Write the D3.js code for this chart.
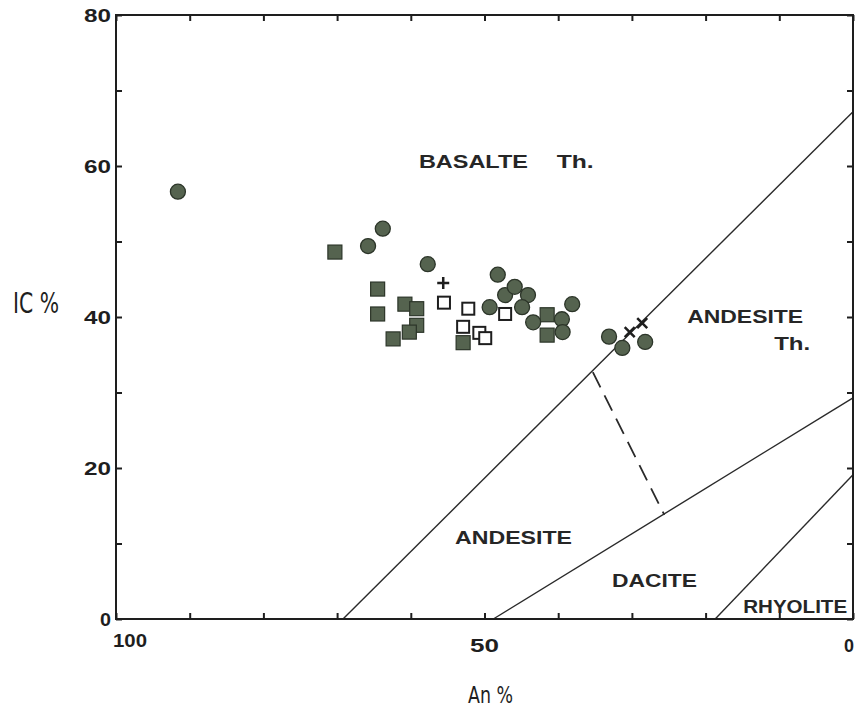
<!DOCTYPE html>
<html>
<head>
<meta charset="utf-8">
<script src="https://cdn.jsdelivr.net/npm/d3@7"></script>
<style>
  html, body { margin: 0; padding: 0; background: #fff; }
  svg { display: block; }
</style>
</head>
<body>
<svg id="chart" width="856" height="708"></svg>
<script>
// ---- DATA (An %, IC %) ----
const filledCircles = [
  [91.6, 56.6], [65.8, 49.4], [63.8, 51.7], [57.7, 47.0], [48.2, 45.6],
  [47.2, 42.9], [45.9, 44.0], [44.1, 42.9], [44.9, 41.3], [49.3, 41.3],
  [43.4, 39.3], [38.1, 41.7], [39.5, 39.7], [39.4, 38.0], [33.1, 37.4],
  [31.3, 35.9], [28.2, 36.7]
];
const filledSquares = [
  [70.3, 48.6], [64.5, 43.7], [64.5, 40.4], [60.8, 41.7], [59.2, 41.1],
  [59.2, 38.9], [60.2, 38.0], [62.4, 37.1], [52.9, 36.6], [41.5, 40.3],
  [41.5, 37.6]
];
const openSquares = [
  [55.5, 41.9], [52.2, 41.1], [47.2, 40.4], [52.9, 38.7], [50.7, 37.9], [49.9, 37.2]
];
const plusPoints = [[55.6, 44.5]];
const crossPoints = [[30.3, 38.0], [28.6, 39.2]];

// field boundaries
const boundaryBasaltAndesite = [[69.2, 0], [0, 67.2]];
const boundaryAndesiteDacite = [[48.8, 0], [0, 29.3]];
const boundaryDaciteRhyolite = [[18.7, 0], [0, 19.1]];
const boundaryDashed = [[35.3, 32.7], [25.6, 13.8]];

// field labels: text, An, IC (anchor in data space), target width
const fieldLabelText = ["BASALTE", "Th.", "ANDESITE", "Th.", "ANDESITE", "DACITE", "RHYOLITE"];
const fieldLabelAn   = [58.9, 40.2, 22.5, 10.7, 54.0, 32.7, 14.9];
const fieldLabelIC   = [59.7, 59.7, 39.2, 35.6, 9.9, 4.2, 0.8];
const fieldLabelLen  = [109, 37, 116, 36, 117, 85, 104];

// axes
const xTicks = [100, 90, 80, 70, 60, 50, 40, 30, 20, 10, 0];
const xTickLabels = [[100, "100"], [50, "50"], [0, "0"]];
const yTicks = [0, 10, 20, 30, 40, 50, 60, 70, 80];
const yTickLabels = [0, 20, 40, 60, 80];
const xTitle = "An %";
const yTitle = "IC %";

// ---- DRAW ----
const svg = d3.select("#chart");
const L = 116, R = 853, T = 15, B = 619;
const x = d3.scaleLinear().domain([100, 0]).range([L, R]);
const y = d3.scaleLinear().domain([0, 80]).range([B, T]);
const ink = "#1e1e1e";

// boundary lines
const line = d3.line().x(d => x(d[0])).y(d => y(d[1]));
[boundaryBasaltAndesite, boundaryAndesiteDacite, boundaryDaciteRhyolite].forEach(b => {
  svg.append("path").attr("d", line(b)).attr("fill", "none")
    .attr("stroke", "#2a2a2a").attr("stroke-width", 1.4);
});
svg.append("path").attr("d", line(boundaryDashed)).attr("fill", "none")
  .attr("stroke", "#2a2a2a").attr("stroke-width", 1.8).attr("stroke-dasharray", "17,9");

// axes with inward ticks
const tickLen = 6;
const gB = svg.append("g").attr("transform", `translate(0,${B})`)
  .call(d3.axisBottom(x).tickValues(xTicks).tickSize(-tickLen).tickFormat(""));
const gT = svg.append("g").attr("transform", `translate(0,${T})`)
  .call(d3.axisTop(x).tickValues(xTicks).tickSize(-tickLen).tickFormat(""));
const gL = svg.append("g").attr("transform", `translate(${L},0)`)
  .call(d3.axisLeft(y).tickValues(yTicks).tickSize(-tickLen).tickFormat(""));
const gR = svg.append("g").attr("transform", `translate(${R},0)`)
  .call(d3.axisRight(y).tickValues(yTicks).tickSize(-tickLen).tickFormat(""));
[gB, gT, gL, gR].forEach(g => {
  g.select(".domain").remove();
  g.selectAll(".tick line").attr("stroke", ink).attr("stroke-width", 2);
});
svg.append("rect").attr("x", L).attr("y", T).attr("width", R - L).attr("height", B - T)
  .attr("fill", "none").attr("stroke", ink).attr("stroke-width", 2);

// tick labels
const tickFont = "'Liberation Sans', Arial, sans-serif";
svg.selectAll(".ylab").data(yTickLabels).enter().append("text")
  .attr("x", L - 5).attr("y", d => y(d) + 7)
  .attr("text-anchor", "end")
  .attr("font-family", tickFont).attr("font-weight", "bold").attr("font-size", 18)
  .attr("fill", ink)
  .attr("textLength", d => d === 0 ? 11 : 27).attr("lengthAdjust", "spacingAndGlyphs")
  .text(d => d);
svg.selectAll(".xlab").data(xTickLabels).enter().append("text")
  .attr("x", d => d[0] === 100 ? x(d[0]) - 3 : (d[0] === 0 ? x(d[0]) + 1 : x(d[0])))
  .attr("y", d => d[0] === 100 ? B + 28 : B + 33)
  .attr("text-anchor", d => d[0] === 100 ? "start" : (d[0] === 0 ? "end" : "middle"))
  .attr("font-family", tickFont).attr("font-weight", "bold").attr("font-size", 18)
  .attr("fill", ink)
  .attr("textLength", d => d[0] === 100 ? 34 : (d[0] === 50 ? 29 : 10))
  .attr("lengthAdjust", "spacingAndGlyphs")
  .text(d => d[1]);

// axis titles
svg.append("text").attr("x", 13).attr("y", 313)
  .attr("font-family", "'DejaVu Sans Condensed', 'Liberation Sans Narrow', sans-serif")
  .attr("font-size", 29).attr("fill", ink)
  .attr("textLength", 46).attr("lengthAdjust", "spacingAndGlyphs")
  .text(yTitle);
svg.append("text").attr("x", 468).attr("y", 703)
  .attr("font-family", "'DejaVu Sans Condensed', 'Liberation Sans Narrow', sans-serif")
  .attr("font-size", 23).attr("fill", ink)
  .attr("textLength", 45).attr("lengthAdjust", "spacingAndGlyphs")
  .text(xTitle);

// field labels
svg.selectAll(".field").data(fieldLabelText).enter().append("text")
  .attr("x", (d, i) => x(fieldLabelAn[i]))
  .attr("y", (d, i) => y(fieldLabelIC[i]))
  .attr("font-family", tickFont).attr("font-weight", "bold").attr("font-size", 18)
  .attr("fill", "#262626")
  .attr("textLength", (d, i) => fieldLabelLen[i]).attr("lengthAdjust", "spacingAndGlyphs")
  .text(d => d);

// markers
const markFill = "#55634f", markStroke = "#2c3529";
svg.selectAll(".fsq").data(filledSquares).enter().append("rect")
  .attr("x", d => x(d[0]) - 7).attr("y", d => y(d[1]) - 7)
  .attr("width", 14).attr("height", 14)
  .attr("fill", markFill).attr("stroke", markStroke).attr("stroke-width", 1.2);
svg.selectAll(".osq").data(openSquares).enter().append("rect")
  .attr("x", d => x(d[0]) - 6).attr("y", d => y(d[1]) - 6)
  .attr("width", 12).attr("height", 12)
  .attr("fill", "#fff").attr("stroke", ink).attr("stroke-width", 2);
svg.selectAll(".fci").data(filledCircles).enter().append("circle")
  .attr("cx", d => x(d[0])).attr("cy", d => y(d[1])).attr("r", 7.5)
  .attr("fill", markFill).attr("stroke", markStroke).attr("stroke-width", 1.3);
svg.selectAll(".plus").data(plusPoints).enter().append("path")
  .attr("d", d => { const cx = x(d[0]), cy = y(d[1]), s = 6;
    return `M${cx - s},${cy}H${cx + s}M${cx},${cy - s}V${cy + s}`; })
  .attr("stroke", ink).attr("stroke-width", 2.5).attr("fill", "none");
svg.selectAll(".cross").data(crossPoints).enter().append("path")
  .attr("d", d => { const cx = x(d[0]), cy = y(d[1]), s = 5;
    return `M${cx - s},${cy - s}L${cx + s},${cy + s}M${cx - s},${cy + s}L${cx + s},${cy - s}`; })
  .attr("stroke", ink).attr("stroke-width", 2.5).attr("fill", "none");
</script>
</body>
</html>
